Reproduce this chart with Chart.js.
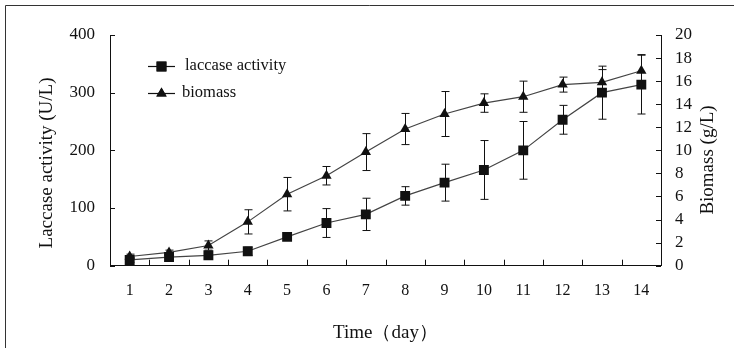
<!DOCTYPE html>
<html>
<head>
<meta charset="utf-8">
<script src="https://cdn.jsdelivr.net/npm/chart.js@4.4.1/dist/chart.umd.min.js"></script>
<style>
  html, body { margin: 0; padding: 0; background: #fff; }
  #wrap { width: 734px; height: 348px; }
</style>
</head>
<body>
<div id="wrap"><canvas id="c" width="734" height="348"></canvas></div>
<script>
const days = ["1", "2", "3", "4", "5", "6", "7", "8", "9", "10", "11", "12", "13", "14"];
const laccase = [10, 15, 18, 25, 50, 74, 89, 121, 144, 166, 200, 253, 300, 314];
const laccaseErr = [4, 4, 5, 7, 4, 25, 28, 16, 32, 51, 50, 25, 46, 51];
const biomass = [0.8, 1.15, 1.75, 3.8, 6.2, 7.8, 9.85, 11.85, 13.15, 14.1, 14.65, 15.7, 15.9, 16.9];
const biomassErr = [0.2, 0.2, 0.4, 1.05, 1.45, 0.8, 1.6, 1.35, 1.95, 0.8, 1.35, 0.65, 1.1, 1.4];
const leftTitle = "Laccase activity (U/L)";
const rightTitle = "Biomass (g/L)";

const serif = "'Liberation Serif', 'DejaVu Serif', serif";
const ink = "#111";

function sideTitle(ctx, text, x, y) {
  ctx.save();
  ctx.translate(x, y);
  ctx.rotate(-Math.PI / 2);
  ctx.font = "19px " + serif;
  ctx.textAlign = "center";
  ctx.textBaseline = "middle";
  ctx.fillStyle = ink;
  ctx.fillText(text, 0, 0);
  ctx.restore();
}

// error bars, inward ticks, frame, legend and the side titles
const extras = {
  id: "extras",
  beforeDraw(chart) {
    const ctx = chart.ctx;
    ctx.save();
    ctx.strokeStyle = "#333";
    ctx.lineWidth = 1;
    ctx.beginPath();
    ctx.moveTo(5.5, 348);
    ctx.lineTo(5.5, 5.5);
    ctx.lineTo(734, 5.5);
    ctx.stroke();
    ctx.restore();
  },
  beforeDatasetsDraw(chart) {
    const ctx = chart.ctx;
    const x = chart.scales.x;
    const area = chart.chartArea;
    ctx.save();
    ctx.strokeStyle = ink;
    ctx.lineWidth = 1;
    ctx.beginPath();
    // inward ticks
    const yl = chart.scales.y;
    yl.ticks.forEach(t => {
      const py = Math.round(yl.getPixelForValue(t.value)) + 0.5;
      ctx.moveTo(area.left, py);
      ctx.lineTo(area.left + 5, py);
    });
    const yr = chart.scales.y1;
    yr.ticks.forEach(t => {
      const py = Math.round(yr.getPixelForValue(t.value)) + 0.5;
      ctx.moveTo(area.right, py);
      ctx.lineTo(area.right - 5, py);
    });
    for (let i = 1; i < days.length; i++) {
      const px = Math.round((x.getPixelForTick(i - 1) + x.getPixelForTick(i)) / 2) + 0.5;
      ctx.moveTo(px, area.bottom);
      ctx.lineTo(px, area.bottom - 6);
    }
    // error bars
    const sets = [[laccase, laccaseErr, yl], [biomass, biomassErr, yr]];
    sets.forEach(([vals, errs, sc]) => {
      vals.forEach((v, i) => {
        const px = Math.round(x.getPixelForTick(i)) + 0.5;
        const top = sc.getPixelForValue(v + errs[i]);
        const bot = sc.getPixelForValue(v - errs[i]);
        ctx.moveTo(px, top);
        ctx.lineTo(px, bot);
        ctx.moveTo(px - 4, top);
        ctx.lineTo(px + 4, top);
        ctx.moveTo(px - 4, bot);
        ctx.lineTo(px + 4, bot);
      });
    });
    ctx.stroke();
    ctx.restore();
  },
  afterDraw(chart) {
    const ctx = chart.ctx;
    ctx.save();
    const rows = [[66, "rect", 7, 185], [93, "triangle", 6, 182]];
    rows.forEach(([ly, style, r, tx], i) => {
      ctx.strokeStyle = ink;
      ctx.lineWidth = 1.2;
      ctx.beginPath();
      ctx.moveTo(148, ly + 0.5);
      ctx.lineTo(175, ly + 0.5);
      ctx.stroke();
      ctx.fillStyle = ink;
      Chart.helpers.drawPoint(ctx, { pointStyle: style, radius: r, borderWidth: 0 }, 161.5, ly + 0.5);
      ctx.fill();
      ctx.font = "16.5px " + serif;
      ctx.textBaseline = "middle";
      ctx.fillText(chart.data.datasets[i].label, tx, ly);
    });
    ctx.restore();
    sideTitle(ctx, leftTitle, 47, 163);
    sideTitle(ctx, rightTitle, 708, 160);
  }
};

new Chart(document.getElementById("c"), {
  type: "line",
  data: {
    labels: days,
    datasets: [
      {
        label: "laccase activity",
        data: laccase,
        yAxisID: "y",
        borderColor: "#444",
        borderWidth: 1.2,
        pointStyle: "rect",
        pointRadius: 7,
        pointBackgroundColor: ink,
        pointBorderWidth: 0,
        tension: 0
      },
      {
        label: "biomass",
        data: biomass,
        yAxisID: "y1",
        borderColor: "#444",
        borderWidth: 1.2,
        pointStyle: "triangle",
        pointRadius: 6,
        pointBackgroundColor: ink,
        pointBorderWidth: 0,
        tension: 0
      }
    ]
  },
  options: {
    responsive: false,
    animation: false,
    layout: { padding: { left: 20, right: 8, top: 35, bottom: 0 } },
    plugins: { legend: { display: false }, tooltip: { enabled: false } },
    scales: {
      x: {
        offset: true,
        grid: { display: true, drawOnChartArea: false, drawTicks: false, color: "transparent" },
        border: { display: true, color: ink, width: 1 },
        ticks: { color: ink, font: { family: serif, size: 16 }, padding: 15, maxRotation: 0, autoSkip: false },
        title: { display: true, text: "Time（day）", color: ink, font: { family: serif, size: 19 }, padding: { top: 4, bottom: 4 } },
        afterFit: s => { s.height = 348 - 265.7; }
      },
      y: {
        position: "left",
        min: 0,
        max: 400,
        grid: { display: true, drawOnChartArea: false, drawTicks: false, color: "transparent" },
        border: { display: true, color: ink, width: 1 },
        ticks: { stepSize: 100, color: ink, font: { family: serif, size: 17 }, padding: 15 },
        afterFit: s => { s.width = 90; }
      },
      y1: {
        position: "right",
        min: 0,
        max: 20,
        grid: { display: true, drawOnChartArea: false, drawTicks: false, color: "transparent" },
        border: { display: true, color: ink, width: 1 },
        ticks: { stepSize: 2, autoSkip: false, color: ink, font: { family: serif, size: 17 }, padding: 14 },
        afterFit: s => { s.width = 734 - 8 - 661; }
      }
    }
  },
  plugins: [extras]
});
</script>
</body>
</html>
